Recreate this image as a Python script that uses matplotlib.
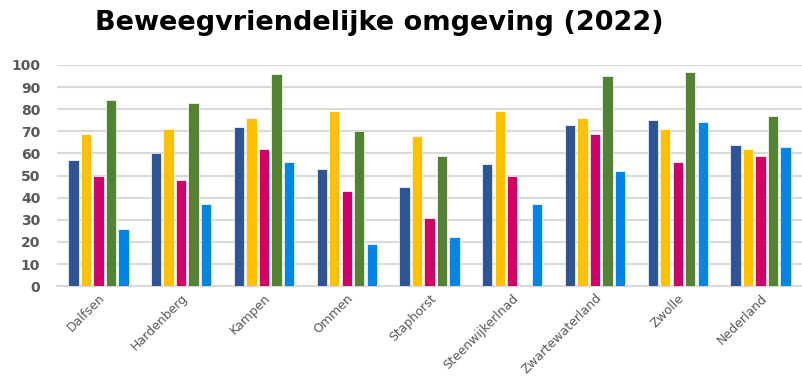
import matplotlib
matplotlib.use("Agg")
import matplotlib.pyplot as plt
import numpy as np

categories = ["Dalfsen", "Hardenberg", "Kampen", "Ommen", "Staphorst",
              "Steenwijkerlnad", "Zwartewaterland", "Zwolle", "Nederland"]
series1 = [57, 60, 72, 53, 45, 55, 73, 75, 64]
series2 = [69, 71, 76, 79, 68, 79, 76, 71, 62]
series3 = [50, 48, 62, 43, 31, 50, 69, 56, 59]
series4 = [84, 83, 96, 70, 59, np.nan, 95, 97, 77]
series5 = [26, 37, 56, 19, 22, 37, 52, 74, 63]
all_series = [series1, series2, series3, series4, series5]
colors = ["#2F5597", "#FFC000", "#CC0066", "#548235", "#0085E6"]
yticks = list(range(0, 101, 10))

fig = plt.figure(figsize=(8.02, 3.82), dpi=100)
ax = fig.add_axes([0.071, 0.251, 0.929, 0.579])

x = np.arange(len(categories))
step = 0.151
bw = 0.125
for i, (s, c) in enumerate(zip(all_series, colors)):
    ax.bar(x + (i - 2) * step, s, width=bw, color=c, edgecolor="white",
           linewidth=0.5, zorder=3)

ax.set_xlim(-0.5, len(categories) - 0.5)
ax.set_ylim(0, 100)
ax.set_yticks(yticks)
ax.set_yticklabels([str(v) for v in yticks], fontsize=10, color="#595959",
                   fontweight="bold")
ax.yaxis.grid(True, color="#D9D9D9", linewidth=1.5, zorder=0)
ax.set_axisbelow(True)
ax.tick_params(axis="y", length=0, pad=12)
ax.tick_params(axis="x", length=0, pad=4)
ax.set_xticks(x)
ax.set_xticklabels(categories, rotation=45, ha="right", rotation_mode="anchor",
                   fontsize=9, color="#595959")
for sp in ["top", "right", "left"]:
    ax.spines[sp].set_visible(False)
ax.spines["bottom"].set_color("#D9D9D9")
ax.spines["bottom"].set_linewidth(1.5)

fig.text(0.473, 0.94, "Beweegvriendelijke omgeving (2022)", ha="center",
         va="center", fontsize=19.5, fontweight="bold", color="black")

fig.savefig("out.png", dpi=100)
